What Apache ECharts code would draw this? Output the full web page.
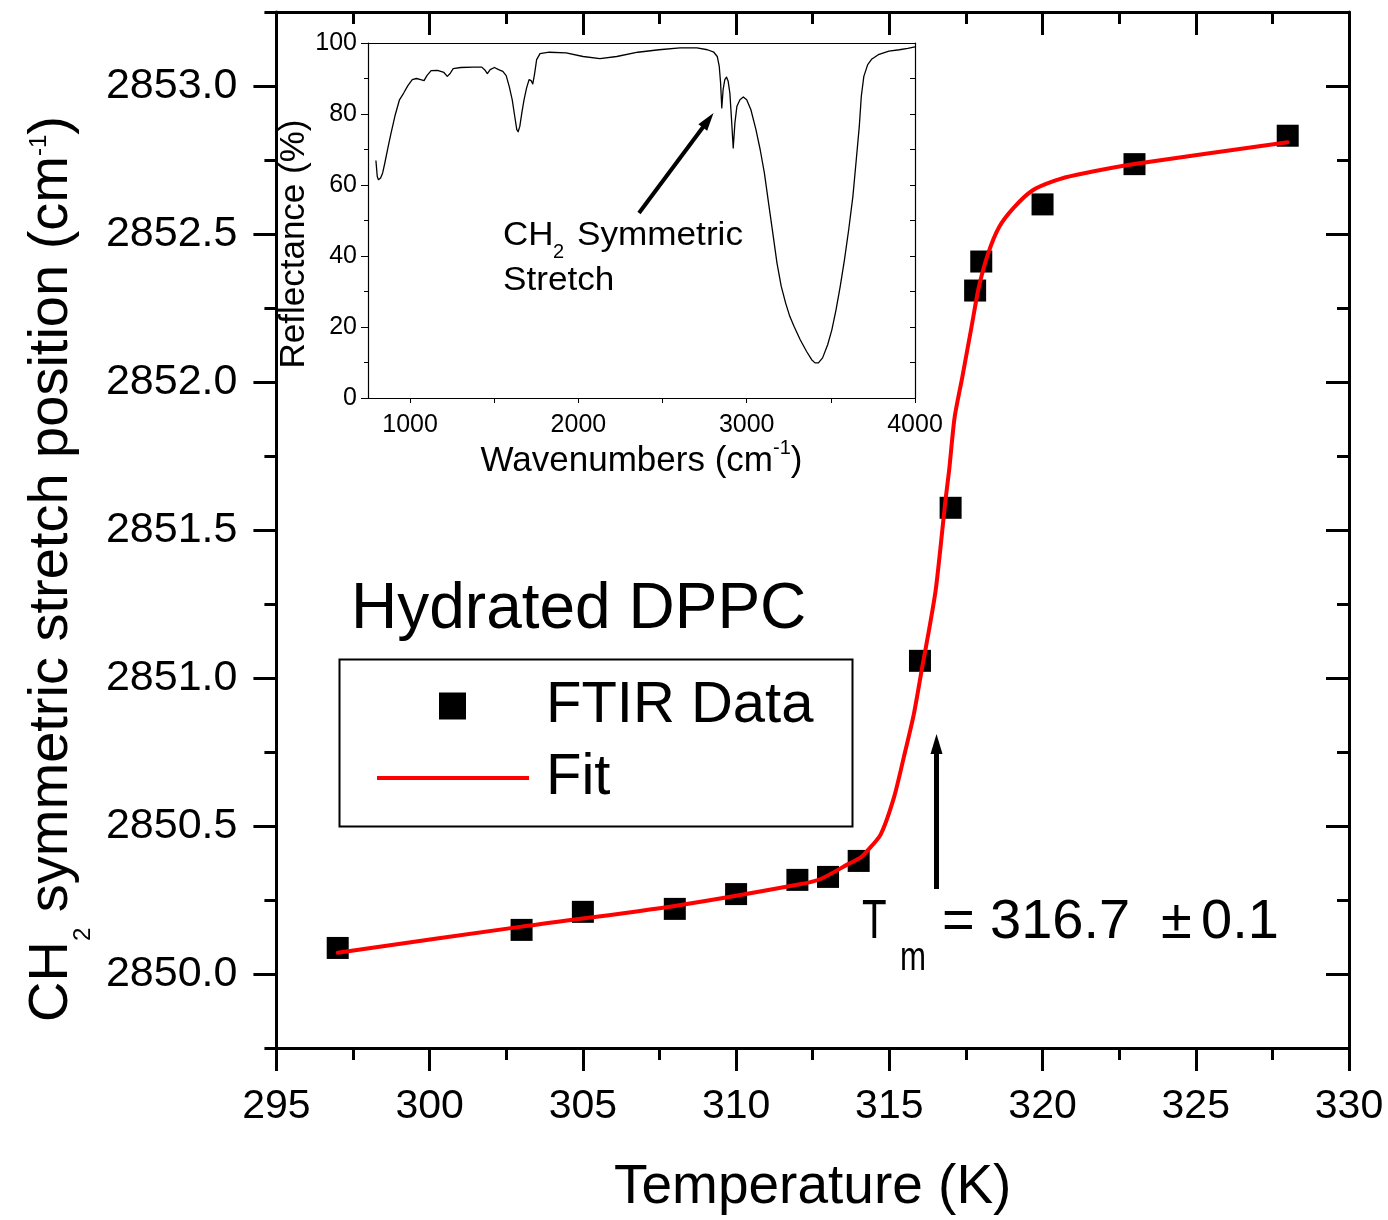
<!DOCTYPE html>
<html><head><meta charset="utf-8">
<script src="https://cdn.jsdelivr.net/npm/echarts@6/dist/echarts.min.js"></script>
<style>html,body{margin:0;padding:0;background:#fff}#c{width:1388px;height:1220px}</style>
</head><body><div id="c"></div>
<script>
const FONT = '"Liberation Sans", Arial, sans-serif';

// Main plot data: FTIR points
const temperature = [297, 303, 305, 308, 310, 312, 313, 314, 316, 317, 317.8, 318, 320, 323, 328];
const stretchPos = [2850.088, 2850.149, 2850.210, 2850.220, 2850.270, 2850.318, 2850.328, 2850.382, 2851.058, 2851.575, 2852.309, 2852.407, 2852.600, 2852.736, 2852.832];

// Fit curve
const fitT = [297.0, 303.0, 308.0, 312.08, 312.76, 313.67, 314.06, 314.28, 314.72, 315.15, 315.47, 315.80, 316.07, 316.29, 316.51, 316.67, 316.83, 316.95, 317.13, 317.38, 317.68, 317.92, 318.22, 318.58, 319.07, 319.67, 320.40, 321.12, 323.05, 328.0];
const fitPos = [2850.072, 2850.160, 2850.230, 2850.303, 2850.321, 2850.372, 2850.393, 2850.416, 2850.472, 2850.596, 2850.731, 2850.878, 2851.035, 2851.159, 2851.295, 2851.441, 2851.599, 2851.700, 2851.880, 2852.016, 2852.185, 2852.320, 2852.433, 2852.523, 2852.590, 2852.647, 2852.680, 2852.700, 2852.737, 2852.810];

// Main axes ticks
const yMajorTicks = [2850.0, 2850.5, 2851.0, 2851.5, 2852.0, 2852.5, 2853.0];
const yMinorTicks = [2849.75, 2850.25, 2850.75, 2851.25, 2851.75, 2852.25, 2852.75, 2853.25];

// Transition arrow (Tm)
const tmArrowT = 316.54;
const tmArrowFrom = 2850.287;
const tmArrowTo = 2850.777;

// Inset spectrum
const specWavenumber = [797,805,812,825,837,850,870,887,912,937,962,987,1013,1038,1063,1083,1100,1125,1163,1201,1221,1238,1256,1301,1376,1426,1446,1459,1476,1501,1526,1551,1571,1589,1607,1622,1634,1642,1652,1664,1677,1692,1707,1719,1729,1739,1752,1772,1827,1927,2028,2128,2228,2353,2479,2604,2704,2767,2805,2825,2837,2845,2852,2860,2870,2880,2890,2900,2910,2920,2930,2942,2960,2980,3000,3025,3055,3080,3105,3130,3155,3180,3205,3231,3256,3281,3318,3356,3386,3406,3426,3451,3481,3506,3531,3556,3581,3606,3631,3651,3669,3681,3696,3719,3744,3782,3845,3907,3957,4000];
const specReflectance = [66.9,62.4,61.5,62.0,63.4,66.2,70.9,74.6,79.8,84.0,85.9,88.0,89.7,90.0,89.7,89.4,90.8,92.2,92.3,91.7,90.6,91.4,92.8,93.1,93.2,93.2,92.3,91.4,92.5,93.1,92.5,92.0,90.8,87.8,84.0,79.3,75.6,75.0,76.5,80.3,84.0,87.3,89.7,89.4,88.5,91.1,95.3,97.0,97.4,97.2,96.2,95.6,96.2,97.4,98.1,98.6,98.6,98.1,97.4,96.2,93.4,88.7,81.7,86.9,89.7,90.4,89.2,85.9,78.4,70.4,77.5,82.2,84.0,84.8,84.0,81.2,75.6,70.0,63.4,54.9,46.5,38.0,31.5,26.8,23.0,20.2,16.4,13.1,10.8,9.9,9.9,11.3,15.0,19.2,24.9,31.5,39.0,47.4,56.8,67.1,76.5,85.0,90.6,93.9,95.5,96.7,97.7,98.1,98.5,98.9];
const insetXTicks = [1000, 1500, 2000, 2500, 3000, 3500, 4000];
const insetXLabels = [1000, 2000, 3000, 4000];
// Inset arrow (data units)
const insetArrowFrom = [2360, 52.1];
const insetArrowTo = [2771, 78.25];

const chart = echarts.init(document.getElementById('c'), null, {renderer: 'canvas'});
const black = '#000';
const noSplit = {show: false};

function txt(x, y, text, size, extra) {
  return Object.assign({type: 'text', x: x, y: y, silent: true, z: 10,
    style: {text: text, fontSize: size, fontFamily: FONT, fill: black, verticalAlign: 'middle'}}, extra || {});
}

const option = {
  animation: false,
  backgroundColor: '#fff',
  textStyle: {fontFamily: FONT, color: black},
  grid: [
    {left: 275, right: 39, top: 12, bottom: 172, containLabel: false},
    {left: 368, right: 473, top: 43, bottom: 822, containLabel: false}
  ],
  xAxis: [
    {
      gridIndex: 0, type: 'value', position: 'bottom', min: 295, max: 330, interval: 5,
      axisLine: {show: true, onZero: false, lineStyle: {color: black, width: 3}},
      axisTick: {show: true, inside: false, length: 23, lineStyle: {color: black, width: 3}},
      minorTick: {show: true, splitNumber: 2, length: 12, lineStyle: {color: black, width: 3}},
      axisLabel: {show: true, fontSize: 41, color: black, fontFamily: FONT, margin: 38},
      splitLine: noSplit, minorSplitLine: noSplit,
      name: 'Temperature (K)', nameLocation: 'middle', nameGap: 112,
      nameTextStyle: {fontSize: 55, color: black, fontFamily: FONT}
    },
    {
      gridIndex: 0, type: 'value', position: 'top', min: 295, max: 330, interval: 5,
      axisLine: {show: true, onZero: false, lineStyle: {color: black, width: 3}},
      axisTick: {show: true, inside: true, length: 23, lineStyle: {color: black, width: 3}},
      minorTick: {show: true, splitNumber: 2, length: 12, lineStyle: {color: black, width: 3}},
      axisLabel: {show: false}, splitLine: noSplit, minorSplitLine: noSplit
    },
    {
      gridIndex: 1, type: 'value', position: 'bottom', min: 750, max: 4000,
      axisLine: {show: true, onZero: false, lineStyle: {color: black, width: 1.2}},
      axisTick: {show: true, inside: false, length: 5, customValues: insetXTicks, lineStyle: {color: black, width: 1}},
      axisLabel: {show: true, customValues: insetXLabels, fontSize: 25, color: black, fontFamily: FONT, margin: 15,
        formatter: v => String(Math.round(v))},
      splitLine: noSplit,
      name: '{a|Wavenumbers (cm}{c|-1}{a|)}', nameLocation: 'middle', nameGap: 41,
      nameTextStyle: {
        fontSize: 35, color: black, fontFamily: FONT,
        rich: {
          a: {fontSize: 35, lineHeight: 36, color: black, fontFamily: FONT},
          c: {fontSize: 20, lineHeight: 20, color: black, fontFamily: FONT, padding: [0, 0, 24, 0]}
        }
      }
    },
    {
      gridIndex: 1, type: 'value', position: 'top', min: 750, max: 4000,
      axisLine: {show: true, onZero: false, lineStyle: {color: black, width: 1.2}},
      axisTick: {show: false}, axisLabel: {show: false}, splitLine: noSplit
    }
  ],
  yAxis: [
    {
      gridIndex: 0, type: 'value', position: 'left', min: 2849.75, max: 2853.25,
      axisLine: {show: true, onZero: false, lineStyle: {color: black, width: 3}},
      axisTick: {show: true, inside: false, length: 23, customValues: yMajorTicks, lineStyle: {color: black, width: 3}},
      axisLabel: {show: true, customValues: yMajorTicks, fontSize: 43, color: black, fontFamily: FONT, margin: 39,
        formatter: v => Number(v).toFixed(1)},
      splitLine: noSplit,
      name: '{a|CH}{b|2}{a| symmetric stretch position (cm}{c|-1}{e|)}',
      nameLocation: 'middle', nameRotate: 90, nameGap: 194,
      nameTextStyle: {
        fontSize: 56, color: black, fontFamily: FONT,
        rich: {
          a: {fontSize: 56, lineHeight: 60, color: black, fontFamily: FONT},
          b: {fontSize: 24, lineHeight: 24, color: black, fontFamily: FONT, padding: [63, 0, 0, 0]},
          c: {fontSize: 24, lineHeight: 24, color: black, fontFamily: FONT, padding: [0, 0, 24, 0]},
          e: {fontSize: 56, lineHeight: 60, color: black, fontFamily: FONT, padding: [0, 78, 0, 0]}
        }
      }
    },
    {
      gridIndex: 0, type: 'value', position: 'left', min: 2849.75, max: 2853.25,
      axisLine: {show: false},
      axisTick: {show: true, inside: false, length: 12, customValues: yMinorTicks, lineStyle: {color: black, width: 3}},
      axisLabel: {show: false}, splitLine: noSplit
    },
    {
      gridIndex: 0, type: 'value', position: 'right', min: 2849.75, max: 2853.25,
      axisLine: {show: true, onZero: false, lineStyle: {color: black, width: 3}},
      axisTick: {show: true, inside: true, length: 23, customValues: yMajorTicks, lineStyle: {color: black, width: 3}},
      axisLabel: {show: false}, splitLine: noSplit
    },
    {
      gridIndex: 0, type: 'value', position: 'right', min: 2849.75, max: 2853.25,
      axisLine: {show: false},
      axisTick: {show: true, inside: true, length: 12, customValues: yMinorTicks, lineStyle: {color: black, width: 3}},
      axisLabel: {show: false}, splitLine: noSplit
    },
    {
      gridIndex: 1, type: 'value', position: 'left', min: 0, max: 100, interval: 20,
      axisLine: {show: true, onZero: false, lineStyle: {color: black, width: 1.2}},
      axisTick: {show: true, inside: false, length: 7, lineStyle: {color: black, width: 1}},
      minorTick: {show: true, splitNumber: 2, length: 4, lineStyle: {color: black, width: 1}},
      axisLabel: {show: true, fontSize: 25, color: black, fontFamily: FONT, margin: 11},
      splitLine: noSplit, minorSplitLine: noSplit,
      name: '{a|Reflectance (%)}', nameLocation: 'middle', nameRotate: 90, nameGap: 40,
      nameTextStyle: {
        fontSize: 35, color: black, fontFamily: FONT,
        rich: {a: {fontSize: 35, lineHeight: 36, color: black, fontFamily: FONT, padding: [0, 47, 0, 0]}}
      }
    },
    {
      gridIndex: 1, type: 'value', position: 'right', min: 0, max: 100, interval: 20,
      axisLine: {show: true, onZero: false, lineStyle: {color: black, width: 1.2}},
      axisTick: {show: true, inside: true, length: 5, lineStyle: {color: black, width: 1}},
      minorTick: {show: true, splitNumber: 2, length: 5, lineStyle: {color: black, width: 1}},
      axisLabel: {show: false}, splitLine: noSplit, minorSplitLine: noSplit
    }
  ],
  legend: [
    {
      data: ['FTIR Data'], left: 439, top: 677, padding: 0, orient: 'vertical',
      itemWidth: 27, itemHeight: 27, selectedMode: false,
      itemStyle: {opacity: 1},
      textStyle: {fontSize: 58, color: black, fontFamily: FONT, padding: [0, 0, 0, 75]}
    },
    {
      data: [{name: 'Fit', icon: 'rect'}], left: 377, top: 749, padding: 0, orient: 'vertical',
      itemWidth: 152, itemHeight: 4, selectedMode: false,
      textStyle: {fontSize: 58, color: black, fontFamily: FONT, padding: [0, 0, 0, 12]}
    }
  ],
  series: [
    {
      name: 'FTIR Data', type: 'scatter', xAxisIndex: 0, yAxisIndex: 0,
      symbol: 'rect', symbolSize: 22, itemStyle: {color: black, opacity: 1},
      data: temperature.map((t, i) => [t, stretchPos[i]]), z: 3, silent: true
    },
    {
      name: 'Fit', type: 'line', xAxisIndex: 0, yAxisIndex: 0,
      showSymbol: false, symbol: 'none', smooth: 0.25,
      lineStyle: {color: '#ff0000', width: 4, join: 'round', cap: 'round'}, itemStyle: {color: '#ff0000'},
      data: fitT.map((t, i) => [t, fitPos[i]]), z: 4, silent: true,
      markLine: {
        silent: true, animation: false,
        symbol: ['none', 'triangle'], symbolSize: [12, 20],
        lineStyle: {color: black, width: 5, type: 'solid'},
        label: {show: false}, emphasis: {disabled: true},
        data: [[{coord: [tmArrowT, tmArrowFrom]}, {coord: [tmArrowT, tmArrowTo]}]]
      }
    },
    {
      name: 'Spectrum', type: 'line', xAxisIndex: 2, yAxisIndex: 4,
      showSymbol: false, symbol: 'none', smooth: false,
      lineStyle: {color: black, width: 1.3, join: 'round'},
      data: specWavenumber.map((w, i) => [w, specReflectance[i]]), silent: true,
      markLine: {
        silent: true, animation: false,
        symbol: ['none', 'triangle'], symbolSize: [11, 18],
        lineStyle: {color: black, width: 4, type: 'solid'},
        label: {show: false}, emphasis: {disabled: true},
        data: [[{coord: insetArrowFrom}, {coord: insetArrowTo}]]
      }
    }
  ],
  graphic: [
    {type: 'rect', shape: {x: 339.5, y: 659.5, width: 513, height: 167},
     style: {fill: 'none', stroke: black, lineWidth: 2}, silent: true, z: 10},
    txt(351, 610, 'Hydrated DPPC', 64),
    txt(862, 923, 'T', 56, {scaleX: 0.72}),
    txt(900, 959, 'm', 40, {scaleX: 0.78}),
    txt(942, 923, '=', 56),
    txt(990, 923, '316.7', 56),
    txt(1161, 923, '\u00b1', 56),
    txt(1201, 923, '0.1', 56),
    txt(503, 235.5, 'CH', 33, {scaleX: 1.06}),
    txt(553, 252, '2', 20),
    txt(577, 235.5, 'Symmetric', 33, {scaleX: 1.065}),
    txt(503, 281, 'Stretch', 33, {scaleX: 1.065})
  ]
};
chart.setOption(option);
</script>
</body></html>
